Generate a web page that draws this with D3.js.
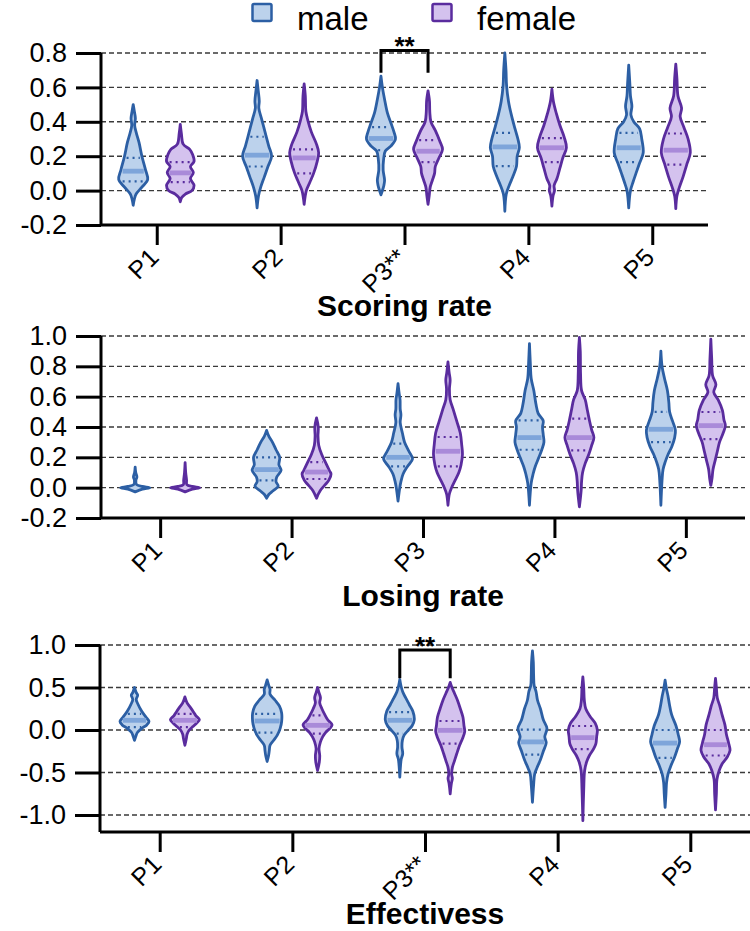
<!DOCTYPE html>
<html lang="en">
<head>
    <meta charset="UTF-8">
    <title>Violin plots</title>
    <script src="https://cdn.jsdelivr.net/npm/d3@7"></script>
    <style>
        body { margin: 0; background: #fff; }
        text { font-family: "Liberation Sans", Arial, sans-serif; }
    </style>
</head>
<body>
<div id="chart-space"></div>
<script>
// ---- data ----
var groups = ["P1", "P2", "P3", "P4", "P5"];
var sexes = ["male", "female"];

var scoringLabels = ["P1", "P2", "P3**", "P4", "P5"];
var losingLabels = ["P1", "P2", "P3", "P4", "P5"];
var effectLabels = ["P1", "P2", "P3**", "P4", "P5"];

var scoringTicks = [-0.2, 0, 0.2, 0.4, 0.6, 0.8];
var losingTicks = [-0.2, 0, 0.2, 0.4, 0.6, 0.8, 1.0];
var effectTicks = [-1.0, -0.5, 0, 0.5, 1.0];

var scoringDomain = [-0.2, 0.8];
var losingDomain = [-0.2, 1.0];
var effectDomain = [-1.2, 1.0];

// violin outlines: [value, relative density 0..1], one list per group
var scoringMaleShape = [
    [[0.50,0],[0.46,0.08],[0.42,0.15],[0.38,0.1],[0.34,0.2],[0.28,0.4],[0.20,0.6],[0.12,0.85],[0.065,1],[0.02,0.6],[-0.02,0.2],[-0.05,0.08],[-0.085,0]],
    [[0.64,0],[0.58,0.08],[0.52,0.15],[0.48,0.12],[0.42,0.3],[0.34,0.55],[0.26,0.8],[0.20,1],[0.14,0.75],[0.08,0.5],[0.02,0.25],[-0.03,0.1],[-0.10,0]],
    [[0.665,0],[0.6,0.1],[0.53,0.25],[0.45,0.45],[0.39,0.7],[0.34,0.9],[0.30,1],[0.26,0.7],[0.23,0.3],[0.18,0.18],[0.12,0.15],[0.06,0.25],[0.03,0.2],[0,0.1],[-0.025,0]],
    [[0.80,0],[0.70,0.08],[0.61,0.12],[0.52,0.25],[0.44,0.45],[0.36,0.7],[0.30,0.9],[0.25,1],[0.20,0.85],[0.14,0.8],[0.08,0.55],[0.03,0.3],[-0.02,0.1],[-0.12,0]],
    [[0.73,0],[0.62,0.08],[0.55,0.12],[0.49,0.22],[0.44,0.15],[0.40,0.35],[0.36,0.75],[0.30,0.9],[0.22,1],[0.16,0.75],[0.10,0.5],[0.05,0.3],[0,0.12],[-0.10,0]]
];
var scoringFemaleShape = [
    [[0.385,0],[0.33,0.08],[0.27,0.2],[0.24,0.65],[0.21,0.85],[0.17,0.95],[0.14,0.7],[0.105,0.9],[0.07,0.7],[0.03,0.95],[0,0.8],[-0.02,0.35],[-0.04,0.1],[-0.065,0]],
    [[0.62,0],[0.55,0.08],[0.46,0.12],[0.41,0.25],[0.34,0.5],[0.27,0.85],[0.22,1],[0.17,0.9],[0.10,0.65],[0.05,0.4],[0,0.15],[-0.08,0]],
    [[0.58,0],[0.52,0.1],[0.46,0.12],[0.40,0.2],[0.35,0.5],[0.29,0.8],[0.24,1],[0.19,0.75],[0.14,0.5],[0.10,0.45],[0.06,0.3],[0.02,0.15],[-0.03,0.08],[-0.08,0]],
    [[0.59,0],[0.52,0.1],[0.45,0.3],[0.38,0.55],[0.31,0.85],[0.25,1],[0.19,0.75],[0.13,0.55],[0.07,0.35],[0.03,0.15],[0,0.18],[-0.03,0.08],[-0.09,0]],
    [[0.735,0],[0.65,0.08],[0.55,0.15],[0.48,0.4],[0.43,0.3],[0.37,0.55],[0.30,0.85],[0.22,1],[0.15,0.75],[0.08,0.5],[0.02,0.25],[-0.03,0.08],[-0.105,0]]
];
// [q1, median, q3]
var scoringMaleStats = [[0.054,0.113,0.19],[0.14,0.206,0.313],[0.235,0.303,0.369],[0.142,0.254,0.336],[0.165,0.249,0.336]];
var scoringFemaleStats = [[0.049,0.103,0.165],[0.10,0.19,0.24],[0.165,0.229,0.293],[0.165,0.249,0.305],[0.151,0.235,0.332]];

var losingMaleShape = [
    [[0.136,0],[0.10,0.04],[0.07,0.12],[0.05,0.05],[0.02,0.1],[0.008,0.5],[0,1],[-0.01,0.5],[-0.028,0]],
    [[0.378,0],[0.34,0.15],[0.30,0.4],[0.25,0.65],[0.20,0.9],[0.15,0.85],[0.115,1],[0.07,0.7],[0.04,0.65],[0.01,0.8],[-0.02,0.45],[-0.045,0.15],[-0.07,0]],
    [[0.686,0],[0.62,0.08],[0.58,0.14],[0.52,0.15],[0.48,0.2],[0.43,0.15],[0.36,0.3],[0.30,0.45],[0.24,0.75],[0.19,1],[0.14,0.65],[0.09,0.35],[0.04,0.2],[0,0.12],[-0.088,0]],
    [[0.95,0],[0.82,0.06],[0.72,0.12],[0.64,0.3],[0.55,0.45],[0.49,0.6],[0.44,0.95],[0.40,0.9],[0.35,0.95],[0.30,1],[0.25,0.85],[0.20,0.65],[0.14,0.4],[0.09,0.25],[0.03,0.12],[-0.116,0]],
    [[0.90,0],[0.80,0.08],[0.72,0.25],[0.64,0.45],[0.56,0.55],[0.50,0.6],[0.44,0.8],[0.38,1],[0.33,0.95],[0.27,0.75],[0.22,0.5],[0.17,0.3],[0.12,0.15],[0.05,0.08],[-0.116,0]]
];
var losingFemaleShape = [
    [[0.165,0],[0.10,0.04],[0.05,0.1],[0.02,0.12],[0.008,0.5],[0,1],[-0.01,0.5],[-0.028,0]],
    [[0.46,0],[0.40,0.12],[0.34,0.1],[0.28,0.15],[0.22,0.35],[0.16,0.65],[0.11,0.9],[0.09,1],[0.05,0.85],[0.02,0.6],[-0.02,0.25],[-0.07,0]],
    [[0.83,0],[0.76,0.08],[0.71,0.15],[0.65,0.1],[0.58,0.15],[0.52,0.35],[0.44,0.6],[0.36,0.85],[0.28,0.95],[0.22,1],[0.15,0.9],[0.10,0.75],[0.05,0.5],[0,0.25],[-0.04,0.1],[-0.116,0]],
    [[0.99,0],[0.90,0.06],[0.75,0.08],[0.64,0.15],[0.58,0.4],[0.51,0.55],[0.44,0.7],[0.38,0.85],[0.33,1],[0.28,0.85],[0.22,0.65],[0.16,0.4],[0.10,0.22],[0.04,0.15],[-0.02,0.12],[-0.127,0]],
    [[0.98,0],[0.85,0.06],[0.74,0.12],[0.68,0.35],[0.63,0.2],[0.58,0.5],[0.51,0.8],[0.45,0.9],[0.41,1],[0.36,0.85],[0.30,0.6],[0.24,0.45],[0.18,0.3],[0.12,0.15],[0.06,0.08],[0.015,0]]
];
var losingMaleStats = [[0,0,0],[0.048,0.119,0.2],[0.14,0.2,0.29],[0.25,0.33,0.444],[0.30,0.385,0.50]];
var losingFemaleStats = [[0,0,0],[0.057,0.103,0.169],[0.14,0.24,0.334],[0.246,0.33,0.455],[0.32,0.409,0.499]];

var effectMaleShape = [
    [[0.50,0],[0.44,0.12],[0.41,0.22],[0.36,0.12],[0.30,0.25],[0.22,0.5],[0.15,0.8],[0.10,1],[0.06,0.85],[0.02,0.5],[-0.03,0.2],[-0.07,0.1],[-0.122,0]],
    [[0.59,0],[0.52,0.12],[0.48,0.2],[0.42,0.2],[0.35,0.55],[0.28,0.85],[0.20,1],[0.10,1],[0.02,0.9],[-0.06,0.7],[-0.12,0.45],[-0.18,0.2],[-0.24,0.15],[-0.30,0.1],[-0.37,0]],
    [[0.594,0],[0.52,0.08],[0.45,0.2],[0.38,0.4],[0.30,0.65],[0.22,0.9],[0.12,1],[0.05,0.85],[0,0.6],[-0.06,0.3],[-0.12,0.18],[-0.20,0.15],[-0.28,0.2],[-0.34,0.1],[-0.42,0.05],[-0.555,0]],
    [[0.93,0],[0.80,0.06],[0.65,0.08],[0.52,0.12],[0.45,0.25],[0.35,0.35],[0.25,0.55],[0.12,0.75],[0.02,1],[-0.08,0.85],[-0.15,0.95],[-0.25,0.75],[-0.35,0.55],[-0.45,0.3],[-0.52,0.15],[-0.65,0.08],[-0.85,0]],
    [[0.587,0],[0.48,0.1],[0.40,0.2],[0.30,0.3],[0.18,0.45],[0.05,0.75],[-0.05,0.9],[-0.14,1],[-0.22,0.85],[-0.32,0.65],[-0.42,0.4],[-0.52,0.2],[-0.62,0.1],[-0.75,0.06],[-0.91,0]]
];
var effectFemaleShape = [
    [[0.39,0],[0.32,0.15],[0.26,0.4],[0.21,0.6],[0.17,0.75],[0.12,1],[0.08,0.8],[0.04,0.55],[0,0.3],[-0.05,0.15],[-0.10,0.1],[-0.18,0]],
    [[0.50,0],[0.44,0.1],[0.38,0.2],[0.32,0.15],[0.25,0.3],[0.18,0.5],[0.12,0.7],[0.06,1],[0.02,0.85],[-0.03,0.55],[-0.08,0.35],[-0.14,0.2],[-0.22,0.1],[-0.30,0.15],[-0.38,0.12],[-0.476,0]],
    [[0.56,0],[0.50,0.12],[0.43,0.3],[0.35,0.5],[0.25,0.7],[0.15,0.88],[0.05,0.95],[-0.02,1],[-0.10,0.85],[-0.18,0.65],[-0.28,0.45],[-0.36,0.3],[-0.44,0.15],[-0.52,0.1],[-0.57,0.15],[-0.63,0.08],[-0.75,0]],
    [[0.626,0],[0.50,0.06],[0.35,0.1],[0.25,0.2],[0.16,0.5],[0.08,0.85],[0,1],[-0.08,0.95],[-0.16,0.9],[-0.22,0.75],[-0.30,0.45],[-0.38,0.25],[-0.48,0.12],[-0.70,0.06],[-1.067,0]],
    [[0.606,0],[0.50,0.06],[0.38,0.12],[0.28,0.3],[0.18,0.45],[0.06,0.65],[-0.05,0.75],[-0.15,0.9],[-0.24,1],[-0.32,0.8],[-0.40,0.45],[-0.48,0.25],[-0.58,0.1],[-0.75,0.06],[-0.94,0]]
];
var effectMaleStats = [[0.035,0.114,0.19],[-0.03,0.106,0.19],[-0.043,0.114,0.21],[-0.29,-0.14,0.004],[-0.327,-0.154,0.0]];
var effectFemaleStats = [[0.035,0.114,0.19],[-0.043,0.055,0.173],[-0.16,-0.004,0.106],[-0.224,-0.09,0.047],[-0.30,-0.173,0.0]];

// significance brackets: group, bracket top value, leg end value
var scoringBracket = {group: "P3", top: 0.815, leg: 0.685, text: "**"};
var effectBracket = {group: "P3", top: 0.94, leg: 0.61, text: "**"};

// ---- drawing ----
var width = 750;
var height = 931;

var colors = {
    male:   {fill: "#bcd2ec", stroke: "#2c5fa4", median: "#7ea5da"},
    female: {fill: "#d4c2ee", stroke: "#5a2c9e", median: "#a98ad9"}
};

var svg = d3.select("#chart-space")
    .append("svg")
    .attr("width", width)
    .attr("height", height);

var panels = [
    {left: 101, right: 708, top: 53, bottom: 225, title: "Scoring rate", titleY: 316,
     domain: scoringDomain, ticks: scoringTicks, labels: scoringLabels,
     shapes: [scoringMaleShape, scoringFemaleShape], stats: [scoringMaleStats, scoringFemaleStats],
     bracket: scoringBracket},
    {left: 101, right: 745, top: 336, bottom: 518, title: "Losing rate", titleY: 606,
     domain: losingDomain, ticks: losingTicks, labels: losingLabels,
     shapes: [losingMaleShape, losingFemaleShape], stats: [losingMaleStats, losingFemaleStats],
     bracket: null},
    {left: 100, right: 750, top: 645, bottom: 832, title: "Effectivess", titleY: 924,
     domain: effectDomain, ticks: effectTicks, labels: effectLabels,
     shapes: [effectMaleShape, effectFemaleShape], stats: [effectMaleStats, effectFemaleStats],
     bracket: effectBracket}
];

var halfWidth = d3.scaleLinear().domain([0, 1]).range([0, 14.5]);

panels.forEach(drawPanel);

function drawPanel(p) {
    var g = svg.append("g");
    var topValue = d3.max(p.ticks);

    var xScale = d3.scalePoint()
        .domain(groups)
        .range([p.left, p.right])
        .padding(0.45);
    var offset = xScale.step() * 0.19;

    // range end follows the top tick
    var yScale = d3.scaleLinear()
        .domain([p.domain[0], topValue])
        .range([p.bottom, p.top]);

    // grid
    g.selectAll(".grid")
        .data(p.ticks.filter(function(t) { return t > p.domain[0]; }))
        .join("line")
        .attr("x1", p.left)
        .attr("x2", p.right)
        .attr("y1", function(d) { return yScale(d); })
        .attr("y2", function(d) { return yScale(d); })
        .attr("stroke", "#3a3a3a")
        .attr("stroke-width", 1.4)
        .attr("stroke-dasharray", "5,3");

    // violins
    sexes.forEach(function(sex, si) {
        var c = colors[sex];
        var dx = si === 0 ? -offset : offset;
        groups.forEach(function(grp, gi) {
            var cx = xScale(grp) + dx;
            var shape = p.shapes[si][gi];
            var st = p.stats[si][gi];

            var area = d3.area()
                .y(function(d) { return yScale(d[0]); })
                .x0(function(d) { return cx - halfWidth(d[1]); })
                .x1(function(d) { return cx + halfWidth(d[1]); })
                .curve(d3.curveCatmullRom);

            g.append("path")
                .attr("d", area(shape))
                .attr("fill", c.fill)
                .attr("stroke", c.stroke)
                .attr("stroke-width", 2.8)
                .attr("stroke-linejoin", "round");

            var widthAt = d3.scaleLinear()
                .domain(shape.map(function(d) { return d[0]; }))
                .range(shape.map(function(d) { return d[1]; }));

            // quartiles
            [st[0], st[2]].forEach(function(q) {
                if (st[0] === st[2]) return;
                var w = halfWidth(widthAt(q)) - 2.5;
                if (w <= 0) return;
                g.append("line")
                    .attr("x1", cx - w).attr("x2", cx + w)
                    .attr("y1", yScale(q)).attr("y2", yScale(q))
                    .attr("stroke", c.stroke)
                    .attr("stroke-width", 2.2)
                    .attr("stroke-dasharray", "2,4");
            });

            // median
            var wm = halfWidth(widthAt(st[1])) - 2;
            if (st[0] !== st[2] && wm > 0) {
                g.append("line")
                    .attr("x1", cx - wm).attr("x2", cx + wm)
                    .attr("y1", yScale(st[1])).attr("y2", yScale(st[1]))
                    .attr("stroke", c.median)
                    .attr("stroke-width", 4.8);
            }
        });
    });

    // y axis
    var yAxis = g.append("g")
        .attr("transform", "translate(" + p.left + ",0)")
        .call(d3.axisLeft(yScale)
            .tickValues(p.ticks)
            .tickSize(25)
            .tickPadding(9)
            .tickFormat(function(d) { return d3.format(".1f")(d).replace("\u2212", "-"); }));
    yAxis.select(".domain").attr("stroke-width", 3).attr("d",
        "M0," + p.bottom + "V" + yScale(topValue));
    yAxis.selectAll(".tick line").attr("stroke-width", 3);
    yAxis.selectAll(".tick text")
        .style("font-size", "27px")
        .style("font-family", "'Liberation Sans', Arial, sans-serif")
        .attr("fill", "#000");

    // x axis
    var xAxis = g.append("g")
        .attr("transform", "translate(0," + p.bottom + ")")
        .call(d3.axisBottom(xScale).tickSize(20).tickSizeOuter(0).tickFormat(function(d, i) { return p.labels[i]; }));
    xAxis.select(".domain").attr("stroke-width", 3).attr("d", "M" + p.left + ",0H" + p.right);
    xAxis.selectAll(".tick line").attr("stroke-width", 3);
    xAxis.selectAll(".tick text")
        .style("font-size", "25px")
        .style("font-family", "'Liberation Sans', Arial, sans-serif")
        .attr("fill", "#000")
        .attr("text-anchor", "end")
        .attr("x", 0)
        .attr("y", 0)
        .attr("dy", null)
        .attr("transform", "translate(3,34) rotate(-45)");

    // title
    g.append("text")
        .attr("x", (p.left + p.right) / 2)
        .attr("y", p.titleY)
        .attr("text-anchor", "middle")
        .style("font-size", "30px")
        .style("font-weight", "bold")
        .text(p.title);

    // bracket
    if (p.bracket) {
        var bx0 = xScale(p.bracket.group) - offset;
        var bx1 = xScale(p.bracket.group) + offset;
        var by = yScale(p.bracket.top);
        var bl = yScale(p.bracket.leg);
        g.append("path")
            .attr("d", "M" + bx0 + "," + bl + "V" + by + "H" + bx1 + "V" + bl)
            .attr("fill", "none")
            .attr("stroke", "#000")
            .attr("stroke-width", 3);
        g.append("text")
            .attr("x", (bx0 + bx1) / 2)
            .attr("y", by + 5)
            .attr("text-anchor", "middle")
            .style("font-size", "26px")
            .style("font-weight", "bold")
            .text(p.bracket.text);
    }
}

// legend
var legend = svg.append("g");
var legendX = d3.scalePoint().domain(sexes).range([251, 431]);
sexes.forEach(function(sex) {
    legend.append("rect")
        .attr("x", legendX(sex) + 1.5)
        .attr("y", 4)
        .attr("width", 19)
        .attr("height", 17)
        .attr("rx", 1.5)
        .attr("fill", colors[sex].fill)
        .attr("stroke", colors[sex].stroke)
        .attr("stroke-width", 2.5);
    legend.append("text")
        .attr("x", legendX(sex) + 46)
        .attr("y", 30)
        .style("font-size", "33px")
        .text(sex);
});
</script>
</body>
</html>
